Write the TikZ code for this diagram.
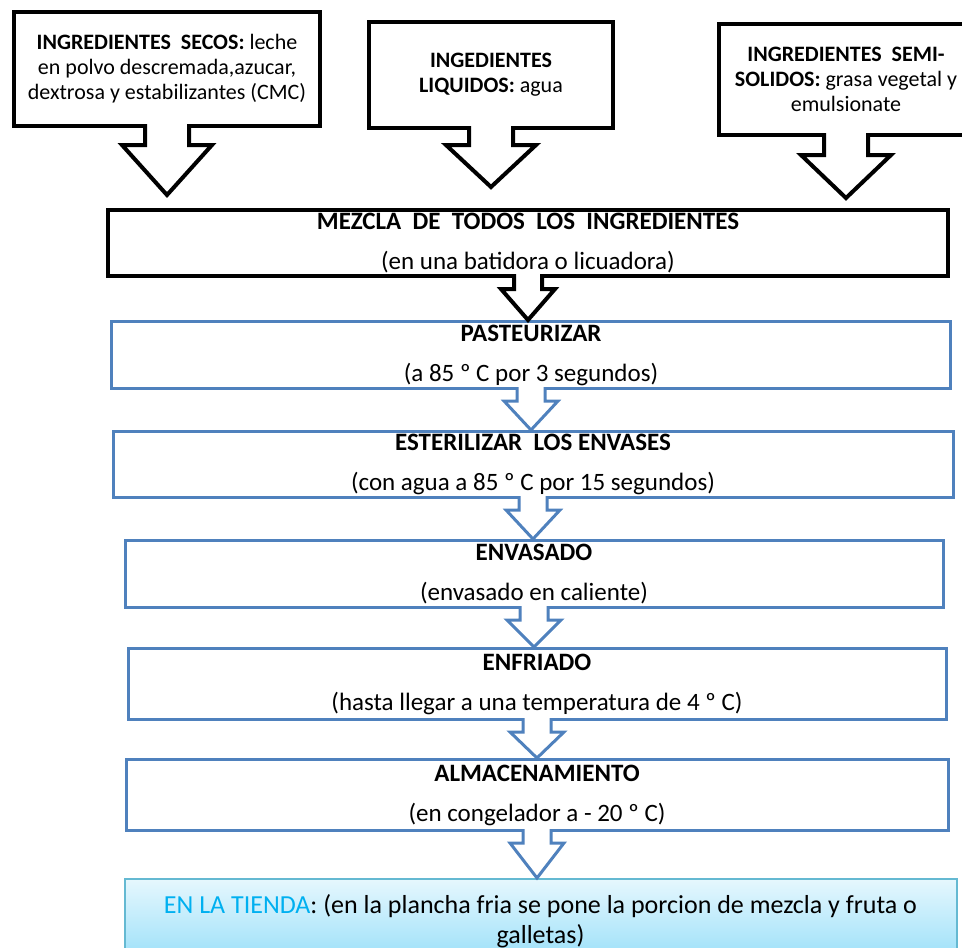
\documentclass[tikz,border=0pt]{standalone}
\usepackage{fontspec}
\setmainfont{Carlito}
\usetikzlibrary{positioning,calc}
\definecolor{azul}{RGB}{79,129,189}
\definecolor{celeste}{RGB}{0,176,240}
\definecolor{bordetienda}{RGB}{100,185,210}

\tikzset{
ingrediente/.style={draw,line width=4pt,align=center,inner sep=0pt,font=\fontsize{22}{25}\selectfont},
mezclabox/.style={draw,line width=4pt,align=center,inner sep=0pt,minimum height=66pt,font=\fontsize{25}{29}\selectfont},
paso/.style={draw=azul,line width=3pt,align=center,inner sep=0pt,minimum height=67pt,font=\fontsize{25}{29}\selectfont},
tiendabox/.style={draw=bordetienda,line width=2pt,top color=celeste!10,bottom color=celeste!40,align=center,inner sep=0pt,minimum height=84pt,font=\fontsize{26}{30}\selectfont}
}

\begin{document}
\begin{tikzpicture}[x=1pt,y=-1pt]
\useasboundingbox (0,0) rectangle (962,948);

\node[ingrediente,minimum width=306pt,minimum height=114pt](secos) at (167,69){\textbf{INGREDIENTES~ SECOS:} leche\\en polvo descremada,azucar,\\dextrosa y estabilizantes (CMC)};
\node[ingrediente,minimum width=244pt,minimum height=106pt](liquidos)[right=45pt of secos,yshift=-6pt]{\textbf{INGEDIENTES}\\\textbf{LIQUIDOS:} agua};
\node[ingrediente,minimum width=254pt,minimum height=111pt](semi)[right=102pt of liquidos,yshift=-4.5pt]{\textbf{INGREDIENTES~ SEMI-}\\\textbf{SOLIDOS:} grasa vegetal y\\emulsionate};

\node[mezclabox,minimum width=840pt](mezcla) at (528,243){\textbf{MEZCLA~ DE~ TODOS~ LOS~ INGREDIENTES}\\[11pt](en una batidora o licuadora)};
\node[paso,minimum width=839pt](past)[below=42pt of mezcla,xshift=3pt]{\textbf{PASTEURIZAR}\\[11pt](a 85 º C por 3 segundos)};
\node[paso,minimum width=840pt,minimum height=66pt](ester)[below=40pt of past,xshift=2pt]{\textbf{ESTERILIZAR~ LOS ENVASES}\\[11pt](con agua a 85 º C por 15 segundos)};
\node[paso,minimum width=818pt](env)[below=40pt of ester,xshift=1pt]{\textbf{ENVASADO}\\[11pt](envasado en caliente)};
\node[paso,minimum width=818pt,minimum height=71pt](enf)[below=38pt of env,xshift=3pt]{\textbf{ENFRIADO}\\[11pt](hasta llegar a una temperatura de 4 º C)};
\node[paso,minimum width=822pt,minimum height=71pt](alm)[below=37pt of enf]{\textbf{ALMACENAMIENTO}\\[11pt](en congelador a - 20 º C)};
\node[tiendabox,minimum width=832pt](tienda)[below=46pt of alm,xshift=3.5pt]{{\color{celeste}EN LA TIENDA}: (en la plancha fria se pone la porcion de mezcla y fruta o\\galletas)};

\foreach \a/\n/\g in {secos/17/13,liquidos/15/21,semi/18/10}
\draw[line width=4pt,fill=white]($(\a.south)+(-22,-4)$)--($(\a.south)+(-22,\n)$)--($(\a.south)+(-45,\n)$)
--($(\a.south |- mezcla.north)+(0,-\g)$)--($(\a.south)+(45,\n)$)--($(\a.south)+(22,\n)$)--($(\a.south)+(22,-4)$);

\foreach \a/\b/\c/\w in {mezcla/past/black/4,past/ester/azul/3,ester/env/azul/3,env/enf/azul/3,enf/alm/azul/3,alm/tienda/azul/3}
\draw[draw=\c,line width=\w pt,fill=white]($(\a.south)+(-14,-\w)$)--($(\a.south)+(-14,11)$)--($(\a.south)+(-27,11)$)
--(\a.south |- \b.north)--($(\a.south)+(27,11)$)--($(\a.south)+(14,11)$)--($(\a.south)+(14,-\w)$);

\end{tikzpicture}
\end{document}
